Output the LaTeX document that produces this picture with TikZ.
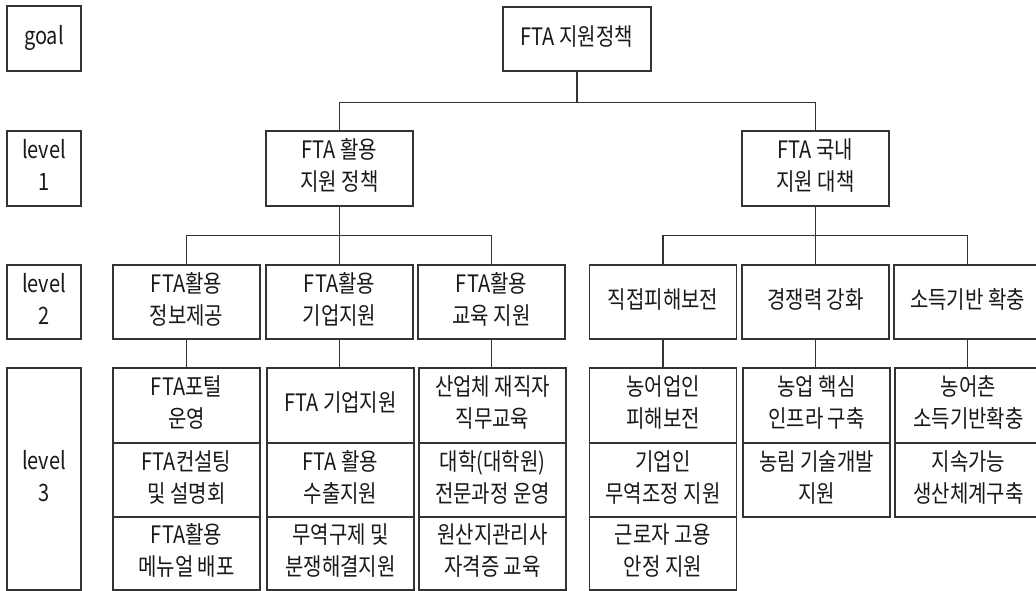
\documentclass[tikz,border=0pt]{standalone}
\usepackage{fontspec}
\usepackage{graphicx}
\setmainfont{Noto Sans CJK KR}
\newcommand{\kt}[1]{\scalebox{1}[1.2]{\begin{tabular}{@{}c@{}}#1\end{tabular}}}
\tikzset{
  bx/.style={draw=black!80, line width=1.2pt, inner sep=0pt, minimum width=147pt, minimum height=74pt, text=black!90, font=\fontsize{20}{26.7}\selectfont},
  lbl/.style={bx, minimum width=74pt},
  conn/.style={draw=black!80, line width=1.1pt}
}
\begin{document}
\begin{tikzpicture}[x=1pt,y=-1pt]
\useasboundingbox (0,0) rectangle (1036,591);
\clip (0,0) rectangle (1036,591);
\fill[white] (0,0) rectangle (1036,591);
% left labels
\node[lbl, minimum height=65pt] (lg) at (44,38.5) {\kt{goal}};
\node[lbl, minimum height=75pt] (lv1) at (44,168.5) {\kt{level\\1}};
\node[lbl] (lv2) at (44,302) {\kt{level\\2}};
\node[lbl, minimum height=222pt] (lv3) at (44,479) {\kt{level\\3}};
% goal
\node[bx, minimum width=148pt, minimum height=64pt] (top) at (577,39) {\kt{FTA 지원정책}};
% level 1
\node[bx, minimum height=75pt] (l1a) at (339.5,168.5) {\kt{FTA 활용\\지원 정책}};
\node[bx, minimum height=75pt] (l1b) at (815.5,168.5) {\kt{FTA 국내\\지원 대책}};
% level 2
\node[bx] (l2a) at (186.5,302) {\kt{FTA활용\\정보제공}};
\node[bx] (l2b) at (339.5,302) {\kt{FTA활용\\기업지원}};
\node[bx] (l2c) at (491.5,302) {\kt{FTA활용\\교육 지원}};
\node[bx] (l2d) at (663,302) {\kt{직접피해보전}};
\node[bx] (l2e) at (815.5,302) {\kt{경쟁력 강화}};
\node[bx] (l2f) at (967.5,302) {\kt{소득기반 확충}};
% level 3
\node[bx, minimum height=75pt] (a1) at (186.5,405.5) {\kt{FTA포털\\운영}};
\node[bx] (a2) at (186.5,480) {\kt{FTA컨설팅\\및 설명회}};
\node[bx, minimum height=73pt] (a3) at (186.5,553.5) {\kt{FTA활용\\메뉴얼 배포}};
\node[bx, minimum height=75pt] (b1) at (340.5,405.5) {\kt{FTA 기업지원}};
\node[bx] (b2) at (340.5,480) {\kt{FTA 활용\\수출지원}};
\node[bx, minimum height=73pt] (b3) at (340.5,553.5) {\kt{무역구제 및\\분쟁해결지원}};
\node[bx, minimum height=75pt] (c1) at (492.5,405.5) {\kt{산업체 재직자\\직무교육}};
\node[bx] (c2) at (492.5,480) {\kt{대학(대학원)\\전문과정 운영}};
\node[bx, minimum height=73pt] (c3) at (492.5,553.5) {\kt{원산지관리사\\자격증 교육}};
\node[bx, minimum height=75pt] (d1) at (663,405.5) {\kt{농어업인\\피해보전}};
\node[bx] (d2) at (663,480) {\kt{기업인\\무역조정 지원}};
\node[bx, minimum height=73pt] (d3) at (663,553.5) {\kt{근로자 고용\\안정 지원}};
\node[bx, minimum height=75pt] (e1) at (816.5,405.5) {\kt{농업 핵심\\인프라 구축}};
\node[bx] (e2) at (816.5,480) {\kt{농림 기술개발\\지원}};
\node[bx, minimum height=75pt] (f1) at (968.5,405.5) {\kt{농어촌\\소득기반확충}};
\node[bx] (f2) at (968.5,480) {\kt{지속가능\\생산체계구축}};
% connectors
\draw[conn] (top.south) -- ++(0,31) coordinate (j0);
\draw[conn] (j0) -| (l1a.north);
\draw[conn] (j0) -| (l1b.north);
\draw[conn] (l1a.south) -- ++(0,29) coordinate (j1);
\draw[conn] (j1) -| (l2a.north);
\draw[conn] (j1) -| (l2c.north);
\draw[conn] (j1) -- (l2b.north);
\draw[conn] (l1b.south) -- ++(0,29) coordinate (j2);
\draw[conn] (j2) -| (l2d.north);
\draw[conn] (j2) -| (l2f.north);
\draw[conn] (j2) -- (l2e.north);
\draw[conn] (l2a.south) -- (l2a.south |- a1.north);
\draw[conn] (l2b.south) -- (l2b.south |- b1.north);
\draw[conn] (l2c.south) -- (l2c.south |- c1.north);
\draw[conn] (l2d.south) -- (l2d.south |- d1.north);
\draw[conn] (l2e.south) -- (l2e.south |- e1.north);
\draw[conn] (l2f.south) -- (l2f.south |- f1.north);
\end{tikzpicture}
\end{document}
